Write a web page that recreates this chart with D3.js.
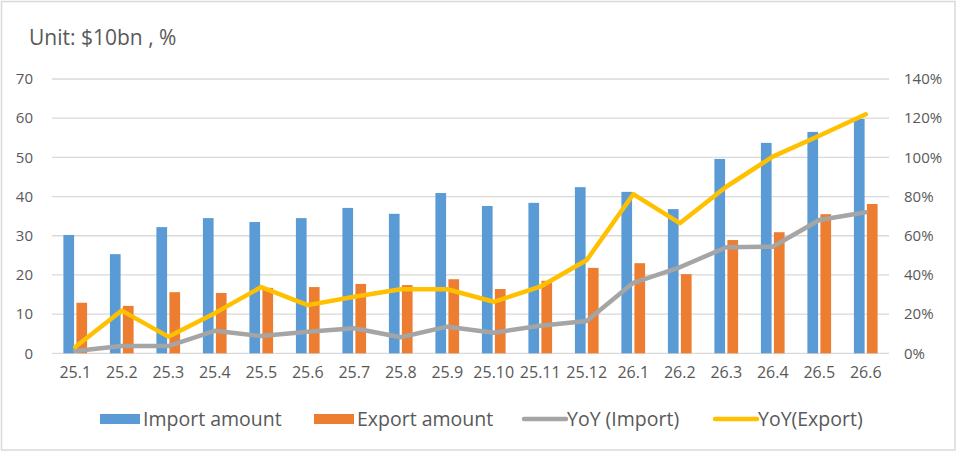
<!DOCTYPE html>
<html>
<head>
<meta charset="utf-8">
<script src="https://cdn.jsdelivr.net/npm/d3@7"></script>
<style>
  html, body { margin: 0; padding: 0; background: #fff; }
  svg { display: block; }
  text { font-family: "Open Sans", "Noto Sans", sans-serif; fill: #595959; }
</style>
</head>
<body>
<svg id="chart" width="958" height="454"></svg>
<script>
const categories = ["25.1","25.2","25.3","25.4","25.5","25.6","25.7","25.8","25.9","25.10","25.11","25.12","26.1","26.2","26.3","26.4","26.5","26.6"];
const importAmount = [30.2, 25.3, 32.2, 34.5, 33.5, 34.5, 37.1, 35.6, 40.9, 37.6, 38.4, 42.4, 41.2, 36.8, 49.6, 53.7, 56.5, 59.8];
const exportAmount = [12.9, 12.1, 15.6, 15.4, 16.7, 16.9, 17.7, 17.4, 18.9, 16.4, 18.5, 21.8, 23.0, 20.2, 28.9, 30.9, 35.5, 38.1];
const yoyImport = [1.2, 3.7, 3.7, 11.5, 8.8, 11.0, 12.8, 8.2, 13.6, 10.5, 14.1, 16.5, 36.0, 43.9, 54.1, 54.4, 68.0, 72.0];
const yoyExport = [3.2, 21.8, 8.5, 20.5, 33.8, 24.6, 28.9, 32.7, 32.7, 26.3, 34.0, 47.6, 81.2, 66.4, 85.0, 100.4, 111.0, 122.0];
const leftTicks = [0, 10, 20, 30, 40, 50, 60, 70];
const rightTicks = [0, 20, 40, 60, 80, 100, 120, 140];
const seriesNames = ["Import amount", "Export amount", "YoY (Import)", "YoY(Export)"];
const colors = { imp: "#5B9BD5", exp: "#ED7D31", yImp: "#A5A5A5", yExp: "#FFC000" };

const svg = d3.select("#chart");

// frame
svg.append("rect").attr("x", 1.5).attr("y", 1.5).attr("width", 953.5).attr("height", 448.5)
  .attr("fill", "#fff").attr("stroke", "#D9D9D9").attr("stroke-width", 1.5);

const plotLeft = 52, plotRight = 889, plotTop = 79, plotBottom = 353.3;

const x = d3.scaleBand().domain(categories).range([plotLeft, plotRight]).padding(0);
const bw = x.bandwidth();
const x1 = d3.scaleBand().domain(["imp", "exp"])
  .range([bw / 2 - 11.85, bw / 2 + 11.85]).paddingInner(0.177).paddingOuter(0);
const yL = d3.scaleLinear().domain([0, 70]).range([plotBottom, plotTop]);
const yR = d3.scaleLinear().domain([0, 140]).range([plotBottom, plotTop]);

// title
svg.append("text").attr("x", 29).attr("y", 44.5).attr("font-size", 21).text("Unit: $10bn , %");

// gridlines
svg.append("g").selectAll("line").data(leftTicks).join("line")
  .attr("x1", plotLeft).attr("x2", plotRight)
  .attr("y1", d => yL(d)).attr("y2", d => yL(d))
  .attr("stroke", "#D9D9D9").attr("stroke-width", 1.3);

// left axis labels
const leftAxis = d3.axisLeft(yL).tickValues(leftTicks).tickSize(0).tickPadding(0);
const gL = svg.append("g").attr("transform", "translate(33,0)").call(leftAxis);
gL.select(".domain").remove();
gL.selectAll("text").attr("font-size", 15).attr("fill", "#595959")
  .style("font-family", '"Open Sans", sans-serif');

// right axis labels
const rightAxis = d3.axisRight(yR).tickValues(rightTicks).tickSize(0).tickPadding(0).tickFormat(d => d + "%");
const gR = svg.append("g").attr("transform", "translate(904,0)").call(rightAxis);
gR.select(".domain").remove();
gR.selectAll("text").attr("font-size", 15).attr("fill", "#595959")
  .style("font-family", '"Open Sans", sans-serif');

// x axis labels
const xAxis = d3.axisBottom(x).tickSize(0).tickPadding(0);
const gX = svg.append("g").attr("transform", "translate(0,367)").call(xAxis);
gX.select(".domain").remove();
gX.selectAll("text").attr("font-size", 16).attr("fill", "#595959")
  .style("font-family", '"Open Sans", sans-serif');

// bars
svg.append("g").selectAll("rect").data(categories).join("rect")
  .attr("x", (d) => x(d) + x1("imp"))
  .attr("width", x1.bandwidth())
  .attr("y", (d, i) => yL(importAmount[i]))
  .attr("height", (d, i) => yL(0) - yL(importAmount[i]))
  .attr("fill", colors.imp);
svg.append("g").selectAll("rect").data(categories).join("rect")
  .attr("x", (d) => x(d) + x1("exp"))
  .attr("width", x1.bandwidth())
  .attr("y", (d, i) => yL(exportAmount[i]))
  .attr("height", (d, i) => yL(0) - yL(exportAmount[i]))
  .attr("fill", colors.exp);

// lines
const line = d3.line().x((d, i) => x(categories[i]) + bw / 2).y(d => yR(d));
svg.append("path").datum(yoyImport).attr("d", line)
  .attr("fill", "none").attr("stroke", colors.yImp).attr("stroke-width", 4.5)
  .attr("stroke-linejoin", "round").attr("stroke-linecap", "round");
svg.append("path").datum(yoyExport).attr("d", line)
  .attr("fill", "none").attr("stroke", colors.yExp).attr("stroke-width", 4.5)
  .attr("stroke-linejoin", "round").attr("stroke-linecap", "round");

// legend
const legendY = 419;
const legendItems = [
  { name: seriesNames[0], type: "rect", color: colors.imp, x0: 100 },
  { name: seriesNames[1], type: "rect", color: colors.exp, x0: 314 },
  { name: seriesNames[2], type: "line", color: colors.yImp, x0: 524 },
  { name: seriesNames[3], type: "line", color: colors.yExp, x0: 715 }
];
const lg = svg.append("g");
legendItems.forEach(it => {
  if (it.type === "rect") {
    lg.append("rect").attr("x", it.x0).attr("y", legendY - 5).attr("width", 40).attr("height", 10).attr("fill", it.color);
  } else {
    lg.append("line").attr("x1", it.x0).attr("x2", it.x0 + 42).attr("y1", legendY).attr("y2", legendY)
      .attr("stroke", it.color).attr("stroke-width", 4.5).attr("stroke-linecap", "round");
  }
  lg.append("text").attr("x", it.x0 + 43).attr("y", legendY).attr("dy", "0.35em")
    .attr("font-size", 19.5).text(it.name);
});
</script>
</body>
</html>
